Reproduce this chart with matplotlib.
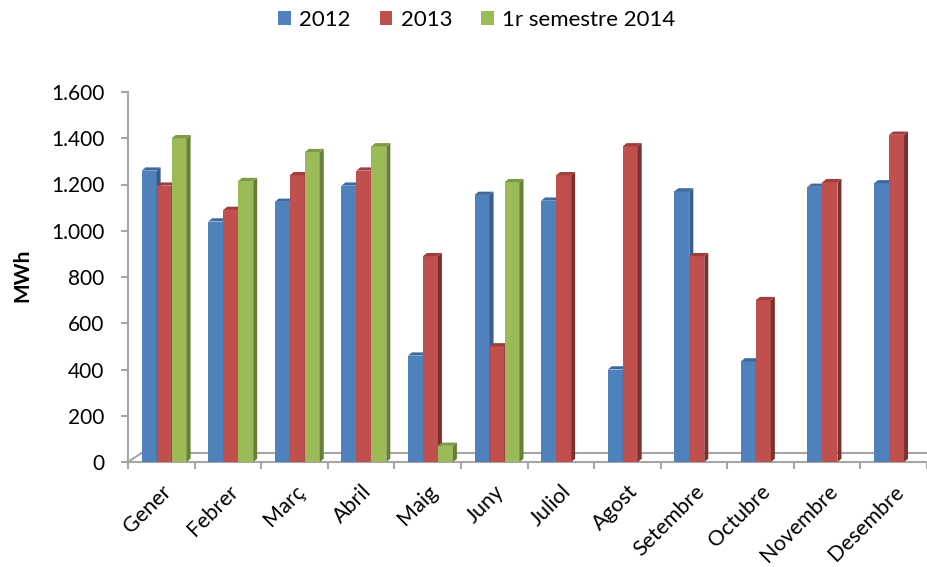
import numpy as np
import matplotlib
matplotlib.use("Agg")
import matplotlib.pyplot as plt
from matplotlib.patches import Polygon, Patch
from matplotlib.ticker import FuncFormatter

months = ["Gener", "Febrer", "Març", "Abril", "Maig", "Juny", "Juliol",
          "Agost", "Setembre", "Octubre", "Novembre", "Desembre"]
series_names = ["2012", "2013", "1r semestre 2014"]
v2012 = [1260, 1040, 1125, 1195, 460, 1155, 1130, 400, 1170, 435, 1190, 1205]
v2013 = [1195, 1090, 1240, 1260, 890, 500, 1240, 1365, 890, 700, 1210, 1415]
v2014 = [1400, 1215, 1340, 1365, 70, 1210, np.nan, np.nan, np.nan, np.nan, np.nan, np.nan]

front = ["#4F81BD", "#C0504D", "#9BBB59"]
side = ["#385D8A", "#7E302E", "#687F37"]
top = ["#3E6A9F", "#A03E3B", "#7F9A46"]

plt.rcParams['font.family'] = ['Lato', 'DejaVu Sans']

fig = plt.figure(figsize=(9.27, 5.67), dpi=100)
ax = fig.add_axes([128 / 927, 105 / 567, 799 / 927, 370 / 567])

x = np.arange(len(months))
width = 0.225
offsets = [-0.1825, 0.0425, 0.2675]
dx, dy = 0.06, 14  # fake 3D depth

for i, vals in enumerate([v2012, v2013, v2014]):
    for xc, h in zip(x, vals):
        if np.isnan(h):
            continue
        x0 = xc + offsets[i] - width / 2
        x1 = x0 + width
        ax.bar(x0, h, width=width, align='edge', color=front[i], zorder=3,
               edgecolor='none')
        ax.add_patch(Polygon([(x1, 0), (x1 + dx, dy), (x1 + dx, h + dy), (x1, h)],
                             closed=True, facecolor=side[i], edgecolor='none', zorder=3))
        ax.add_patch(Polygon([(x0, h), (x1, h), (x1 + dx, h + dy), (x0 + dx, h + dy)],
                             closed=True, facecolor=top[i], edgecolor='none', zorder=3))

# floor of the 3D chart
grey = "#A6A6A6"
ax.plot([-0.5, -0.5 + 0.2], [0, 38], color=grey, lw=1.5, clip_on=False, zorder=2)
ax.plot([-0.3, 11.5], [38, 38], color=grey, lw=1.5, clip_on=False, zorder=2)

ax.set_xlim(-0.5, 11.5)
ax.set_ylim(0, 1600)
ax.set_yticks(range(0, 1601, 200))
ax.yaxis.set_major_formatter(FuncFormatter(lambda v, p: f"{int(v):,}".replace(",", ".")))

ax.set_xticks(x)
ax.set_xticklabels(months, rotation=45, ha='right', va='top', rotation_mode='anchor')
ax.set_xticks(np.arange(-0.5, 12, 1), minor=True)
ax.tick_params(axis='x', which='major', length=0, pad=14, labelsize=15.5)
ax.tick_params(axis='x', which='minor', length=5, width=1.5, color=grey)
ax.tick_params(axis='y', length=5, width=1.5, color=grey, labelsize=15, pad=12)

for s in ['top', 'right']:
    ax.spines[s].set_visible(False)
for s in ['left', 'bottom']:
    ax.spines[s].set_color(grey)
    ax.spines[s].set_linewidth(1.5)

fig.text(0.024, 0.515, "MWh", rotation=90, ha='center', va='center',
         fontsize=15, fontweight='bold')

handles = [Patch(facecolor=c) for c in front]
fig.legend(handles, series_names, loc='center', bbox_to_anchor=(477 / 927, 1 - 20 / 567),
           ncol=3, frameon=False, fontsize=16, handlelength=0.55, handleheight=0.55,
           handletextpad=0.4, columnspacing=1.3)

fig.savefig("out.png", dpi=100)
